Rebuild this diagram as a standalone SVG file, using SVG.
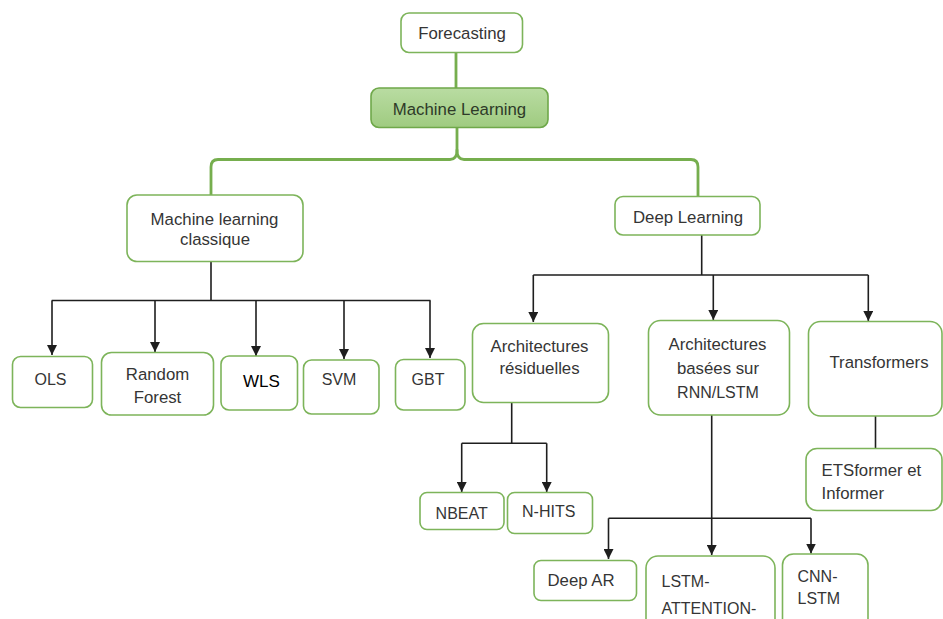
<svg xmlns="http://www.w3.org/2000/svg" width="943" height="619" viewBox="0 0 943 619">
<defs>
<style>
.box{fill:#ffffff;stroke:#7db45a;stroke-width:1.6}
.t{font-family:"Liberation Sans",Arial,sans-serif;font-size:16.8px;fill:#353535;text-anchor:middle}
.c{font-size:16px}
.tl{text-anchor:start}
.g{fill:none;stroke:#76ae4e;stroke-width:2.8;stroke-linecap:round;stroke-linejoin:round}
.k{fill:none;stroke:#1e1e1e;stroke-width:1.6}
.ka{fill:none;stroke:#1e1e1e;stroke-width:1.6;marker-end:url(#ah)}
</style>
<linearGradient id="mlg" x1="0" y1="0" x2="0" y2="1">
<stop offset="0" stop-color="#b9dca2"/>
<stop offset="1" stop-color="#9fcb80"/>
</linearGradient>
<marker id="ah" markerWidth="10" markerHeight="10" refX="10" refY="5" orient="auto" markerUnits="userSpaceOnUse">
<path d="M0,0 L10,5 L0,10 z" fill="#1e1e1e"/>
</marker>
</defs>
<rect width="943" height="619" fill="#ffffff"/>

<g id="connectors">
<path class="g" d="M456,53 V88"/>
<path class="g" d="M457,128 V150 Q457,159.5 450,159.5 H218 Q211,159.5 211,167 V195"/>
<path class="g" d="M457,150 Q457,159.5 464,159.5 H691 Q698,159.5 698,167 V196"/>
<path class="k" d="M211,262 V300.5 M51.7,300.5 H430.5"/>
<path class="ka" d="M52,300.5 V355"/>
<path class="ka" d="M155,300.5 V352"/>
<path class="ka" d="M256,300.5 V356"/>
<path class="ka" d="M344,300.5 V359"/>
<path class="ka" d="M430,300.5 V358"/>
<path class="k" d="M701.7,235 V275 M533.3,275 H868.3"/>
<path class="ka" d="M533.3,275 V322"/>
<path class="ka" d="M713.3,275 V320"/>
<path class="ka" d="M868.3,275 V321"/>
<path class="k" d="M511.7,403 V443.3 M461.7,443.3 H546.7"/>
<path class="ka" d="M461.7,443.3 V492"/>
<path class="ka" d="M546.7,443.3 V492"/>
<path class="k" d="M875.5,416 V448"/>
<path class="ka" d="M711.7,415 V555"/>
<path class="k" d="M608.5,518.3 H811"/>
<path class="ka" d="M608.5,518.3 V559"/>
<path class="ka" d="M811,518.3 V553.5"/>
</g>

<g id="forecasting">
<rect class="box" x="401" y="13" width="121.5" height="39.5" rx="8"/>
<text class="t" x="462" y="39">Forecasting</text>
</g>
<g id="machine-learning">
<rect x="371" y="88" width="177" height="39.5" rx="8" fill="url(#mlg)" stroke="#6fa84a" stroke-width="1.6"/>
<text class="t" x="459.5" y="115" style="fill:#2e3a28">Machine Learning</text>
</g>
<g id="ml-classique">
<rect class="box" x="127" y="195" width="176" height="66.5" rx="10"/>
<text class="t" x="214.5" y="225">Machine learning</text>
<text class="t" x="215" y="245">classique</text>
</g>
<g id="deep-learning">
<rect class="box" x="615" y="196.5" width="145" height="38.5" rx="8"/>
<text class="t" x="688" y="223">Deep Learning</text>
</g>
<g id="ols">
<rect class="box" x="12.5" y="356.5" width="80" height="51" rx="8"/>
<text class="t c" x="50.5" y="385">OLS</text>
</g>
<g id="random-forest">
<rect class="box" x="101.5" y="352.5" width="112" height="62.5" rx="10"/>
<text class="t" x="157.5" y="380">Random</text>
<text class="t" x="157.5" y="402.5">Forest</text>
</g>
<g id="wls">
<rect class="box" x="221" y="356" width="76.5" height="54" rx="8"/>
<text class="t" x="261.5" y="386.5" style="font-size:17px;fill:#000000">WLS</text>
</g>
<g id="svm">
<rect class="box" x="303.5" y="360" width="75.5" height="54" rx="8"/>
<text class="t c" x="339" y="385">SVM</text>
</g>
<g id="gbt">
<rect class="box" x="395.5" y="359.5" width="69.5" height="50.5" rx="8"/>
<text class="t c" x="428" y="385">GBT</text>
</g>
<g id="arch-residuelles">
<rect class="box" x="472.5" y="323.5" width="136" height="79" rx="11"/>
<text class="t" x="539.5" y="351.5">Architectures</text>
<text class="t" x="539.5" y="374">résiduelles</text>
</g>
<g id="arch-rnn">
<rect class="box" x="648.5" y="320.5" width="141" height="94.5" rx="12"/>
<text class="t" x="717.5" y="350">Architectures</text>
<text class="t" x="718" y="374">basées sur</text>
<text class="t c" x="718" y="397.5">RNN/LSTM</text>
</g>
<g id="transformers">
<rect class="box" x="808.5" y="321.5" width="133.5" height="94.5" rx="12"/>
<text class="t" x="879" y="368">Transformers</text>
</g>
<g id="nbeat">
<rect class="box" x="420" y="492.5" width="84" height="37" rx="7"/>
<text class="t c" x="461.7" y="519">NBEAT</text>
</g>
<g id="nhits">
<rect class="box" x="507.5" y="492.5" width="85" height="41" rx="7"/>
<text class="t c" x="548.7" y="517">N-HITS</text>
</g>
<g id="etsformer">
<rect class="box" x="806" y="448.5" width="136" height="62" rx="11"/>
<text class="t tl" x="821.5" y="476">ETSformer et</text>
<text class="t tl" x="821.5" y="498.5">Informer</text>
</g>
<g id="deep-ar">
<rect class="box" x="534" y="560.5" width="102.5" height="40" rx="7"/>
<text class="t tl" x="547.5" y="586">Deep AR</text>
</g>
<g id="lstm-attention">
<rect class="box" x="646" y="556" width="129" height="75" rx="12"/>
<text class="t tl c" x="661.5" y="586.5">LSTM-</text>
<text class="t tl c" x="661.5" y="614">ATTENTION-</text>
</g>
<g id="cnn-lstm">
<rect class="box" x="782.5" y="554" width="85.5" height="77" rx="11"/>
<text class="t tl c" x="797.5" y="581.5">CNN-</text>
<text class="t tl c" x="797.5" y="603.5">LSTM</text>
</g>
</svg>
